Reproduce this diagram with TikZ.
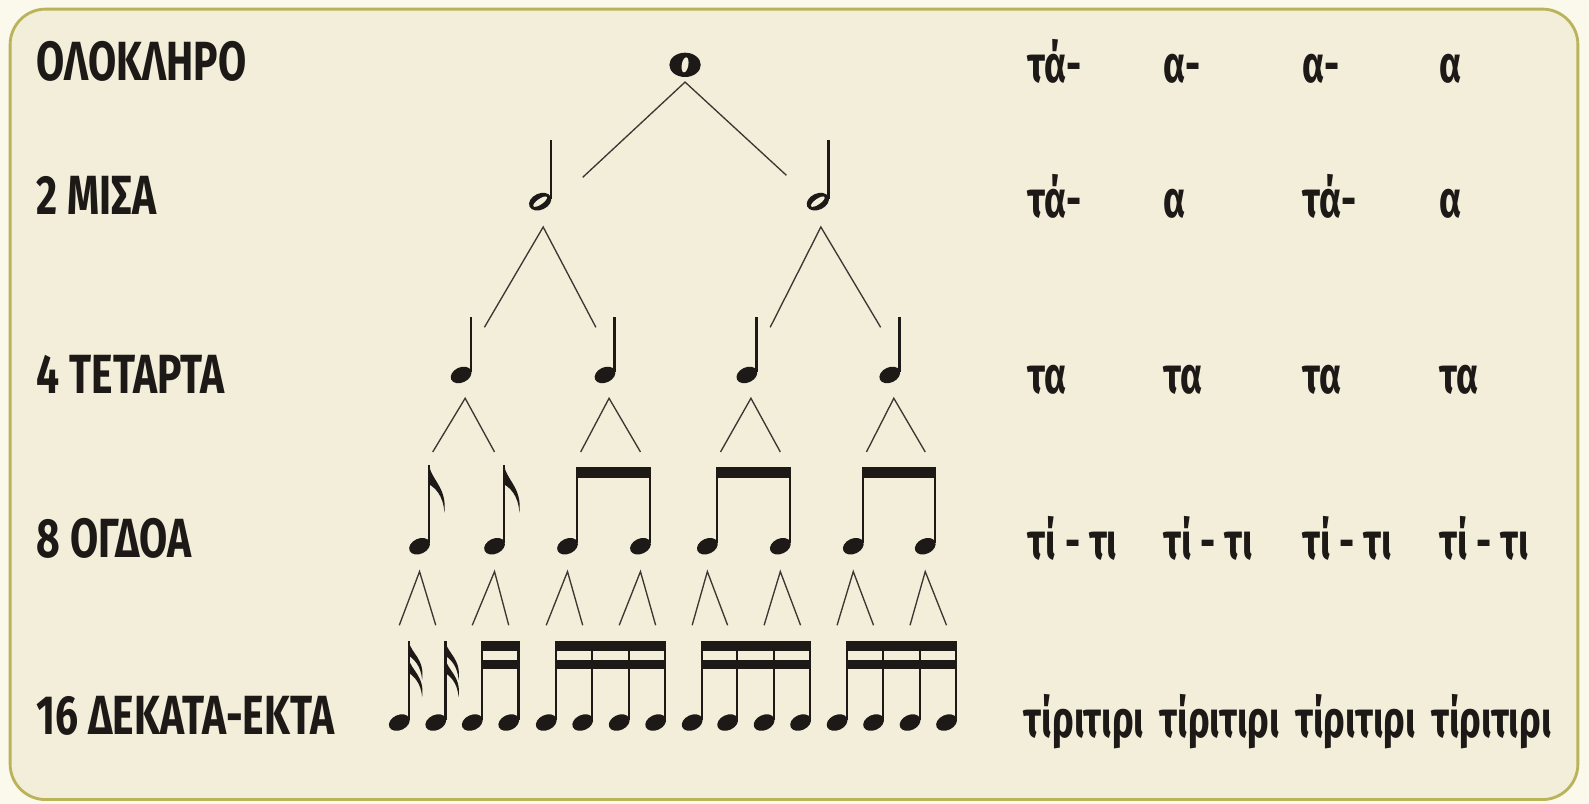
\documentclass[tikz,border=0pt]{standalone}
\usepackage{fontspec}
\setmainfont{Fira Sans}
\newfontfamily\namefont[FakeStretch=0.74]{Fira Sans}
\newfontfamily\sylfont[FakeStretch=0.72]{Fira Sans}
\usetikzlibrary{positioning,calc}

\definecolor{pagefill}{HTML}{FBF8EC}
\definecolor{boxfill}{HTML}{F3EEDA}
\definecolor{boxline}{HTML}{B9B35A}
\definecolor{ink}{HTML}{1C1916}
\definecolor{twig}{HTML}{3B3733}

\tikzstyle{rowname} = [anchor=base west, inner sep=0pt, text=ink, font=\namefont\bfseries\fontsize{31}{36}\selectfont]
\tikzstyle{syllable} = [anchor=base west, inner sep=0pt, text=ink, font=\sylfont\bfseries\fontsize{29}{34}\selectfont]
\tikzstyle{branch} = [draw=twig, line width=0.75pt]
\tikzstyle{beam} = [fill=ink]

\tikzset{
  semibreve/.pic={
    \fill[ink] (0,0) ellipse [x radius=0.31cm, y radius=0.24cm];
    \fill[boxfill,rotate=-10] (0,0) ellipse [x radius=0.065cm, y radius=0.15cm];},
  minim/.pic={
    \fill[ink,rotate=25] (0,0) ellipse [x radius=0.23cm, y radius=0.16cm];
    \fill[boxfill,rotate=35] (0,0) ellipse [x radius=0.16cm, y radius=0.055cm];
    \draw[ink,line width=1.2pt] (10.5,-3) -- (10.5,-#1);},
  crotchet/.pic={
    \fill[ink,rotate=25] (0,0) ellipse [x radius=0.215cm, y radius=0.15cm];
    \draw[ink,line width=1.3pt] (9.5,-3) -- (9.5,-#1);},
  longflag/.pic={
    \fill[ink] (0,0) .. controls (1.5,14) and (18,22) .. (15,47) .. controls (14,29) and (5,22) .. (0,19) -- cycle;},
  shortflag/.pic={
    \fill[ink] (0,0) .. controls (1.5,11) and (16,17) .. (13,38) .. controls (12,23) and (4,17) .. (0,14) -- cycle;},
  quaver/.pic={
    \pic {crotchet=80};
    \pic at (9.5,-80) {longflag};},
  semiquaver/.pic={
    \pic {crotchet=80};
    \pic at (9.5,-80) {shortflag};
    \pic at (9.5,-63) {shortflag};},
}

\begin{document}
\begin{tikzpicture}[x=0.02cm, y=-0.02cm]

\useasboundingbox (0,0) rectangle (1568,793);
\fill[pagefill] (0,0) rectangle (1568,793);
\draw[boxline, line width=1.6pt, fill=boxfill, rounded corners=0.7cm] (10,9) rectangle (1557,789);

% row names
\node[rowname] (whole) at (36,79) {ΟΛΟΚΛΗΡΟ};
\node[rowname] (halves) at (36,212) {2 ΜΙΣΑ};
\node[rowname] (quarters) at (36,388) {4 ΤΕΤΑΡΤΑ};
\node[rowname] (eighths) at (36,550) {8 ΟΓΔΟΑ};
\node[rowname] (sixteenths) at (36,725) {16 ΔΕΚΑΤΑ-ΕΚΤΑ};

% syllables
\node[syllable] (r1a) at (1014,81) {τά-};
\node[syllable] (r1b) at (1148,81) {α-};
\node[syllable] (r1c) at (1285,81) {α-};
\node[syllable] (r1d) at (1420,81) {α};
\node[syllable] (r2a) at (1014,215) {τά-};
\node[syllable] (r2b) at (1148,215) {α};
\node[syllable] (r2c) at (1285,215) {τά-};
\node[syllable] (r2d) at (1420,215) {α};
\foreach \n/\x in {a/1014,b/1148,c/1285,d/1420}
  \node[syllable] (r3\n) at (\x,388) {τα};
\foreach \n/\x in {a/1014,b/1148,c/1285,d/1420}
  \node[syllable] (r4\n) at (\x,552) {τί - τι};
\foreach \n/\x in {a/1010,b/1144,c/1278,d/1412}
  \node[syllable] (r5\n) at (\x,728) {τίριτιρι};

% note positions
\coordinate (w) at (676,64);
\coordinate (h1) at (533,199);
\coordinate (h2) at (807,199);
\foreach \n/\x in {1/455,2/597,3/737,4/878}
  \coordinate (q\n) at (\x,370);
\foreach \n/\x in {1/414,2/488,3/560,4/632,5/698,6/770,7/842,8/913}
  \coordinate (e\n) at (\x,539);
\foreach \n/\x in {1/394,2/430,3/466,4/502,5/539,6/575,7/611,8/647,9/683,10/718,11/754,12/790,13/826,14/862,15/898,16/934}
  \coordinate (s\n) at (\x,713);

% notes
\pic at (w) {semibreve};
\foreach \h in {h1,h2} \pic at (\h) {minim=61};
\foreach \n in {1,...,4} \pic at (q\n) {crotchet=57};
\foreach \n in {1,2} \pic at (e\n) {quaver};
\foreach \n in {3,...,8} \pic at (e\n) {crotchet=78};
\foreach \n in {1,2} \pic at (s\n) {semiquaver};
\foreach \n in {3,...,16} \pic at (s\n) {crotchet=80};

% beams
\foreach \a/\b in {e3/e4,e5/e6,e7/e8}
  \fill[beam] ($(\a)+(8.4,-78)$) rectangle ($(\b)+(10.6,-67)$);
\foreach \a/\b in {s3/s4,s5/s8,s9/s12,s13/s16} {
  \fill[beam] ($(\a)+(8.4,-80)$) rectangle ($(\b)+(10.6,-71)$);
  \fill[beam] ($(\a)+(8.4,-62)$) rectangle ($(\b)+(10.6,-53)$);
}

% branches
\draw[branch] ($(h1)+(42,-24)$) -- ($(w)+(0,17)$) -- ($(h2)+(-31,-26)$);
\foreach \p/\a/\b in {h1/q1/q2,h2/q3/q4}
  \draw[branch] ($(\a)+(23,-47)$) -- ($(\p)+(3,25)$) -- ($(\b)+(-9,-47)$);
\foreach \p/\a/\b in {q1/e1/e2,q2/e3/e4,q3/e5/e6,q4/e7/e8}
  \draw[branch] ($(\a)+(13,-93)$) -- ($(\p)+(4,23)$) -- ($(\b)+(0,-93)$);
\foreach \p/\a/\b in {e1/s1/s2,e2/s3/s4,e3/s5/s6,e4/s7/s8,e5/s9/s10,e6/s11/s12,e7/s13/s14,e8/s15/s16}
  \draw[branch] ($(\a)+(0,-96)$) -- ($(\p)+(0,25)$) -- ($(\b)+(0,-96)$);

\end{tikzpicture}
\end{document}
